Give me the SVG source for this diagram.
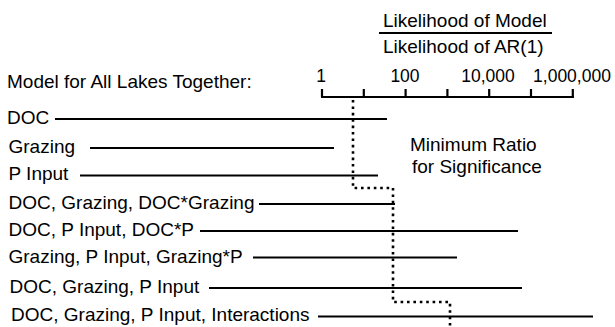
<svg xmlns="http://www.w3.org/2000/svg" width="615" height="327" viewBox="0 0 615 327">
<style>
text{font-family:"Liberation Sans",Arial,sans-serif;font-size:19px;fill:#000}
.tk{font-size:17.5px;text-anchor:middle}
.bar{stroke:#000;stroke-width:2.2;fill:none}
.dot{stroke:#000;stroke-width:2.6;fill:none;stroke-dasharray:2.6 3.8}
</style>
<rect width="615" height="327" fill="#fff"/>
<g id="title">
<text x="383" y="27">Likelihood of Model</text>
<line x1="379" y1="33" x2="552" y2="33" stroke="#000" stroke-width="2"/>
<text x="383" y="53">Likelihood of AR(1)</text>
<text x="7" y="88">Model for All Lakes Together:</text>
</g>
<g id="axis">
<line class="bar" x1="321" y1="97" x2="574" y2="97"/>
<path class="bar" d="M322 89V97M363.8 89V97M405.6 89V97M447.4 89V97M489.2 89V97M531 89V97M572.8 89V97"/>
<text class="tk" x="321" y="82">1</text>
<text class="tk" x="405" y="82">100</text>
<text class="tk" x="488" y="82">10,000</text>
<text class="tk" x="572" y="82">1,000,000</text>
</g>
<g id="threshold-label">
<text x="410" y="151">Minimum Ratio</text>
<text x="412" y="173">for Significance</text>
</g>
<g id="row1"><text x="7" y="124">DOC</text></g>
<g id="row2"><text x="8.5" y="153">Grazing</text></g>
<g id="row3"><text x="8.5" y="180">P Input</text></g>
<g id="row4"><text x="8.5" y="209">DOC, Grazing, DOC*Grazing</text></g>
<g id="row5"><text x="8.5" y="236">DOC, P Input, DOC*P</text></g>
<g id="row6"><text x="8.5" y="263">Grazing, P Input, Grazing*P</text></g>
<g id="row7"><text x="9.5" y="293">DOC, Grazing, P Input</text></g>
<g id="row8"><text x="11" y="321">DOC, Grazing, P Input, Interactions</text></g>
<g id="connectors">
<line class="bar" x1="55" y1="119" x2="387" y2="119"/>
<line class="bar" x1="90" y1="148" x2="334" y2="148"/>
<line class="bar" x1="80" y1="175.5" x2="378" y2="175.5"/>
<line class="bar" x1="259" y1="204" x2="395" y2="204"/>
<line class="bar" x1="200" y1="231" x2="518" y2="231"/>
<line class="bar" x1="253" y1="257.5" x2="457" y2="257.5"/>
<line class="bar" x1="209" y1="288" x2="522" y2="288"/>
<line class="bar" x1="318" y1="316.5" x2="593" y2="316.5"/>
<path class="dot" d="M353 100V188H393V302H450V327"/>
</g>
</svg>
